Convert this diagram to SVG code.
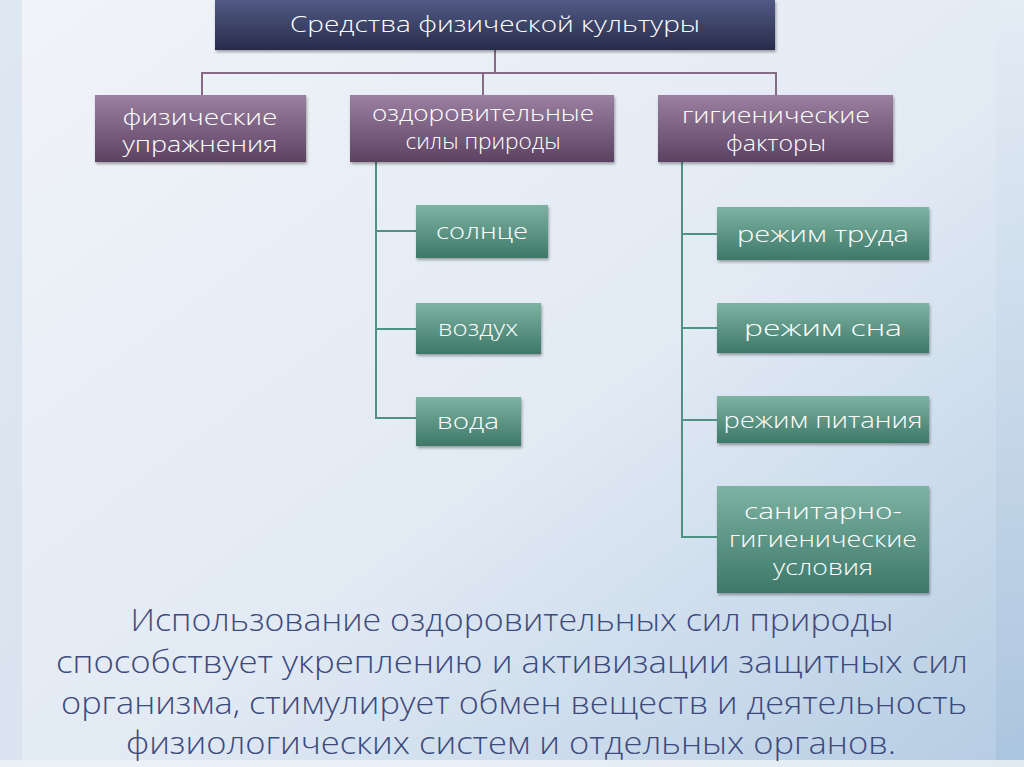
<svg xmlns="http://www.w3.org/2000/svg" width="1024" height="767" viewBox="0 0 1024 767">
<defs>
<linearGradient id="bg" x1="0" y1="0" x2="1" y2="1">
<stop offset="0" stop-color="#f1f4f9"/>
<stop offset="0.55" stop-color="#e2eaf4"/>
<stop offset="1" stop-color="#b4cce3"/>
</linearGradient>
<linearGradient id="rstrip" x1="0" y1="0" x2="0" y2="1">
<stop offset="0" stop-color="#e4ecf5"/>
<stop offset="1" stop-color="#a9c3dd"/>
</linearGradient>
<linearGradient id="navy" x1="0" y1="0" x2="0" y2="1">
<stop offset="0" stop-color="#525a84"/>
<stop offset="1" stop-color="#272c4b"/>
</linearGradient>
<linearGradient id="purple" x1="0" y1="0" x2="0" y2="1">
<stop offset="0" stop-color="#9b80a2"/>
<stop offset="1" stop-color="#5c4261"/>
</linearGradient>
<linearGradient id="green" x1="0" y1="0" x2="0" y2="1">
<stop offset="0" stop-color="#7db3a3"/>
<stop offset="1" stop-color="#3e7868"/>
</linearGradient>
<filter id="sh" x="-10%" y="-10%" width="120%" height="130%">
<feDropShadow dx="1" dy="2" stdDeviation="1.5" flood-color="#000" flood-opacity="0.35"/>
</filter>
</defs>
<style>
.lbl{font-family:"Open Sans","DejaVu Sans",sans-serif;font-weight:300;fill:#ffffff;text-anchor:middle;}
.t1{font-size:22px;}
.t2{font-size:22px;}
.body{font-family:"Open Sans","DejaVu Sans",sans-serif;font-weight:300;font-size:31px;fill:#3d4a7c;text-anchor:middle;}
.cp{stroke:#876a86;stroke-width:2;fill:none;}
.cg{stroke:#4f9283;stroke-width:2;fill:none;}
</style>
<rect width="1024" height="767" fill="url(#bg)"/>
<rect x="0" y="0" width="22" height="767" fill="#d2dfed" opacity="0.6"/>
<rect x="996" y="0" width="28" height="767" fill="url(#rstrip)" opacity="0.8"/>
<rect x="0" y="760" width="1024" height="7" fill="#eef3f8" opacity="0.8"/>

<g id="connectors">
<path class="cp" d="M495 50 V73 M202 95 V73 H776 V95 M483 73 V95"/>
<path class="cg" d="M376 162 V418 H416 M376 231 H416 M376 329 H416"/>
<path class="cg" d="M682 162 V537 H717 M682 234 H717 M682 328 H717 M682 420 H717"/>
</g>

<g id="root">
<rect x="215" y="0" width="560" height="50" fill="url(#navy)" filter="url(#sh)"/>
<text class="lbl t1" x="495" y="32" textLength="410" lengthAdjust="spacingAndGlyphs">Средства физической культуры</text>
</g>

<g id="n-exercises">
<rect x="95" y="95" width="211" height="67" fill="url(#purple)" filter="url(#sh)"/>
<text class="lbl t2" x="200" y="125" textLength="155" lengthAdjust="spacingAndGlyphs">физические</text>
<text class="lbl t2" x="200" y="152" textLength="155" lengthAdjust="spacingAndGlyphs">упражнения</text>
</g>

<g id="n-nature">
<rect x="350" y="95" width="264" height="67" fill="url(#purple)" filter="url(#sh)"/>
<text class="lbl t2" x="483" y="121" textLength="222" lengthAdjust="spacingAndGlyphs">оздоровительные</text>
<text class="lbl t2" x="483" y="149" textLength="155" lengthAdjust="spacingAndGlyphs">силы природы</text>
</g>

<g id="n-hygiene">
<rect x="658" y="95" width="235" height="67" fill="url(#purple)" filter="url(#sh)"/>
<text class="lbl t2" x="776" y="123" textLength="188" lengthAdjust="spacingAndGlyphs">гигиенические</text>
<text class="lbl t2" x="776" y="151" textLength="100" lengthAdjust="spacingAndGlyphs">факторы</text>
</g>

<g id="n-sun">
<rect x="416" y="205" width="132" height="53" fill="url(#green)" filter="url(#sh)"/>
<text class="lbl t2" x="482" y="239" textLength="92" lengthAdjust="spacingAndGlyphs">солнце</text>
</g>
<g id="n-air">
<rect x="416" y="303" width="125" height="51" fill="url(#green)" filter="url(#sh)"/>
<text class="lbl t2" x="478" y="336" textLength="80" lengthAdjust="spacingAndGlyphs">воздух</text>
</g>
<g id="n-water">
<rect x="416" y="397" width="105" height="49" fill="url(#green)" filter="url(#sh)"/>
<text class="lbl t2" x="468" y="429" textLength="62" lengthAdjust="spacingAndGlyphs">вода</text>
</g>

<g id="n-work">
<rect x="717" y="207" width="212" height="53" fill="url(#green)" filter="url(#sh)"/>
<text class="lbl t2" x="823" y="242" textLength="172" lengthAdjust="spacingAndGlyphs">режим труда</text>
</g>
<g id="n-sleep">
<rect x="717" y="303" width="212" height="50" fill="url(#green)" filter="url(#sh)"/>
<text class="lbl t2" x="823" y="336" textLength="158" lengthAdjust="spacingAndGlyphs">режим сна</text>
</g>
<g id="n-food">
<rect x="717" y="396" width="212" height="47" fill="url(#green)" filter="url(#sh)"/>
<text class="lbl t2" x="823" y="428" textLength="199" lengthAdjust="spacingAndGlyphs">режим питания</text>
</g>
<g id="n-sanitary">
<rect x="717" y="486" width="212" height="107" fill="url(#green)" filter="url(#sh)"/>
<text class="lbl t2" x="823" y="519" textLength="158" lengthAdjust="spacingAndGlyphs">санитарно-</text>
<text class="lbl t2" x="823" y="547" textLength="188" lengthAdjust="spacingAndGlyphs">гигиенические</text>
<text class="lbl t2" x="823" y="575" textLength="100" lengthAdjust="spacingAndGlyphs">условия</text>
</g>

<g id="caption">
<text class="body" x="512" y="631" textLength="763" lengthAdjust="spacingAndGlyphs">Использование оздоровительных сил природы</text>
<text class="body" x="512" y="673" textLength="912" lengthAdjust="spacingAndGlyphs">способствует укреплению и активизации защитных сил</text>
<text class="body" x="514" y="714" textLength="906" lengthAdjust="spacingAndGlyphs">организма, стимулирует обмен веществ и деятельность</text>
<text class="body" x="511" y="754" textLength="770" lengthAdjust="spacingAndGlyphs">физиологических систем и отдельных органов.</text>
</g>
</svg>
